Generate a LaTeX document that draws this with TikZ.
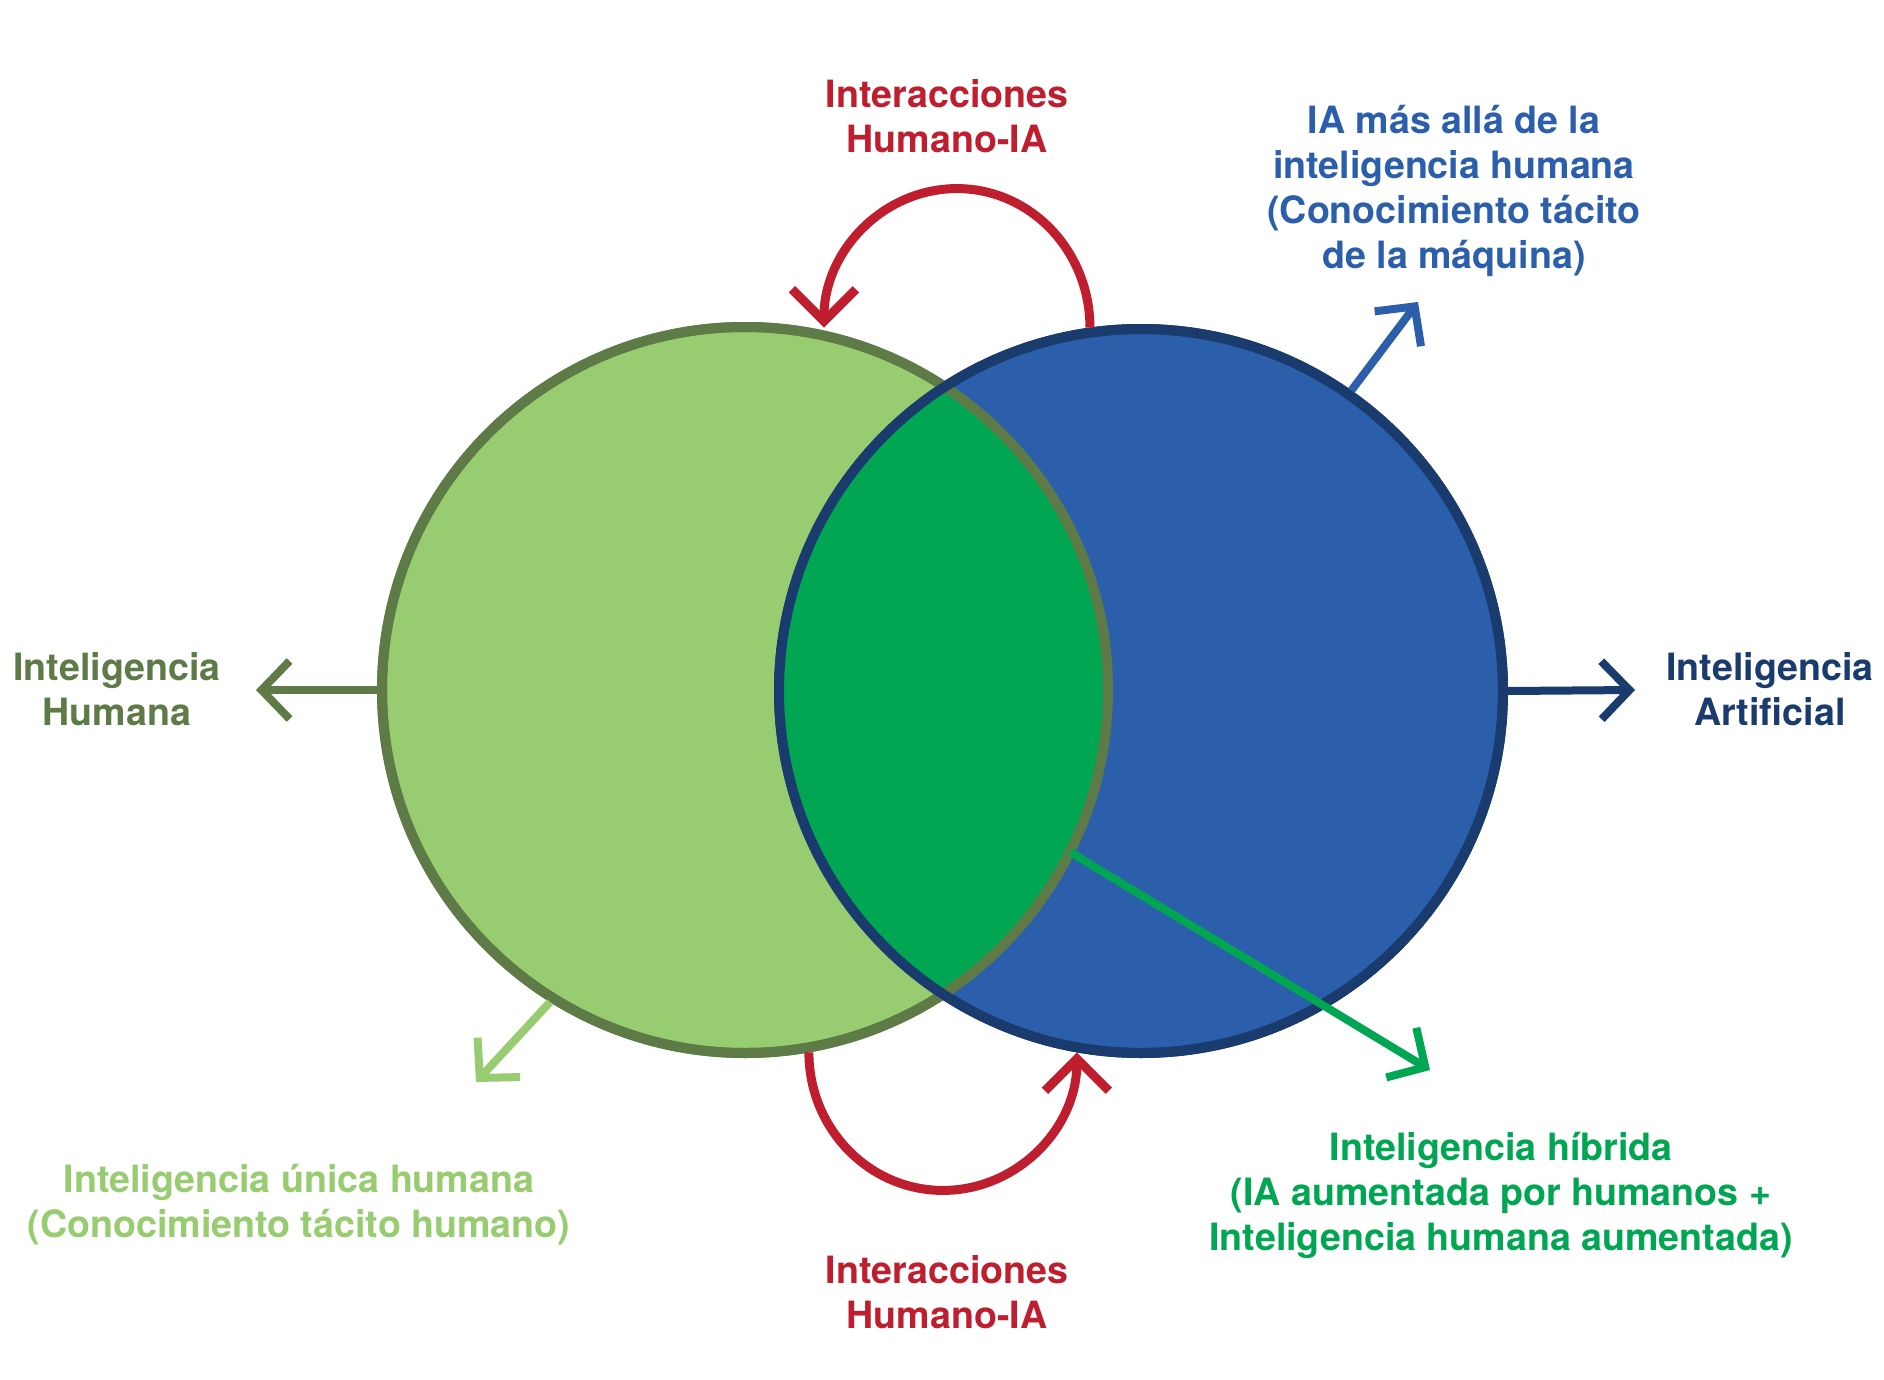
\documentclass[tikz,border=0pt]{standalone}
\usepackage{fontspec}
\setmainfont{TeX Gyre Heros}
\usetikzlibrary{arrows.meta,calc}
\definecolor{lgreen}{HTML}{98CC70}
\definecolor{oliveline}{HTML}{5E7B47}
\definecolor{bluefill}{HTML}{2C5FAB}
\definecolor{navyline}{HTML}{1A3B6E}
\definecolor{igreen}{HTML}{00A651}
\definecolor{redarc}{HTML}{BE1E2D}
\begin{document}
\begin{tikzpicture}[x=1pt,y=-1pt,
  lab/.style={font=\bfseries\fontsize{37.6}{45}\selectfont, align=center, inner sep=0pt},
  sarrow/.style={line width=8pt, -{Straight Barb[length=28pt,width=58pt]}},
  rarrow/.style={line width=9pt, draw=redarc, -{Straight Barb[length=32pt,width=64pt]}}]
\useasboundingbox[fill=white] (0,0) rectangle (1884,1380);

% circles
\node[circle, minimum size=726pt, inner sep=0pt, fill=lgreen, draw=oliveline, line width=10pt] (L) at (745,690) {};
\node[circle, minimum size=724pt, inner sep=0pt, fill=bluefill, draw=navyline, line width=10pt] (R) at (1141,691) {};
\begin{scope}
  \clip (L.center) circle[radius=363pt];
  \fill[igreen] (R.center) circle[radius=362pt];
\end{scope}
\draw[oliveline, line width=10pt] (L.center) circle[radius=363pt];
\draw[navyline, line width=10pt] (R.center) circle[radius=362pt];

% free ends
\coordinate (hl) at (256,690);
\coordinate (ar) at (1635,690);
\coordinate (bt) at (1418,302);
\coordinate (ut) at (476,1082);
\coordinate (ht) at (1430,1070);

% straight arrows
\draw[sarrow, draw=oliveline] (L.west) -- (hl);
\draw[sarrow, draw=navyline] (R.east) -- (ar);
\draw[sarrow, draw=bluefill] (R.55) -- (bt);
\draw[sarrow, draw=lgreen] (L.238) -- (ut);
\draw[sarrow, draw=igreen] ($(L.center)+(-26.5:363pt)$) -- (ht);

% red interaction arcs
\draw[rarrow] (R.98) arc[start angle=0, end angle=180, x radius=133pt, y radius=139pt];
\draw[rarrow] (L.-80) arc[start angle=180, end angle=360, x radius=134pt, y radius=138pt];

% labels
\node[lab, text=redarc] (topI) at (947,116) {Interacciones\\Humano-IA};
\node[lab, text=redarc] (botI) at (947,1292) {Interacciones\\Humano-IA};
\node[lab, text=oliveline] (HA) at (117,689) {Inteligencia\\Humana};
\node[lab, text=navyline] (IA) at (1770,689) {Inteligencia\\Artificial};
\node[lab, text=bluefill] (beyond) at (1454,191) {IA más allá de la\\inteligencia humana\\(Conocimiento tácito\\de la máquina)};
\node[lab, text=lgreen] (unique) at (299,1205) {Inteligencia única humana\\(Conocimiento tácito humano)};
\node[lab, text=igreen] (hybrid) at (1501,1195) {Inteligencia híbrida\\(IA aumentada por humanos +\\Inteligencia humana aumentada)};
\end{tikzpicture}
\end{document}
